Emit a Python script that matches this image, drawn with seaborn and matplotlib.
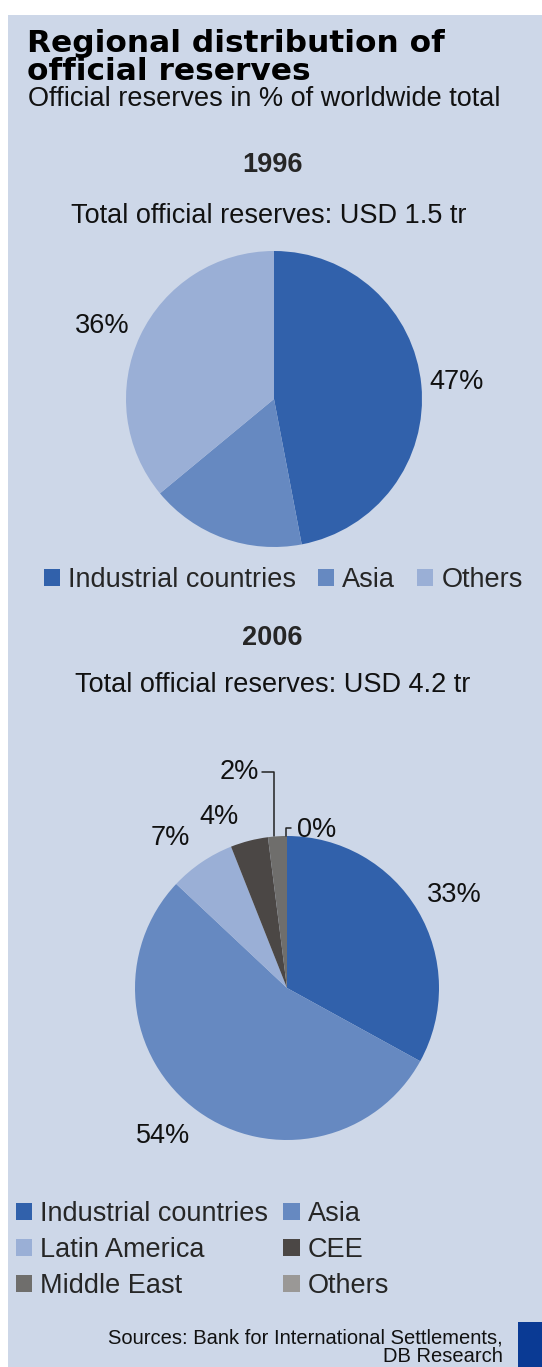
import matplotlib
matplotlib.use("Agg")
import numpy as np
import matplotlib.pyplot as plt
import seaborn as sns
from matplotlib.patches import Patch, Rectangle

# ============================
# data
# ============================
regions_1996 = ["Industrial countries", "Asia", "Others"]
shares_1996 = [47, 17, 36]
labels_1996 = ["47%", "", "36%"]

regions_2006 = ["Industrial countries", "Asia", "Latin America", "CEE", "Middle East", "Others"]
shares_2006 = [33, 54, 7, 4, 2, 0]
labels_2006 = ["33%", "54%", "7%", "4%", "", ""]

colors_1996 = ["#3161ab", "#6689c1", "#9aafd6"]
colors_2006 = ["#3161ab", "#6689c1", "#9aafd6", "#4b4745", "#6f6e6c", "#9a9896"]

# ============================
# style
# ============================
sns.set_style("white")
plt.rcParams["font.family"] = ["Liberation Sans", "DejaVu Sans"]

BG = "#cdd7e8"
W, H = 542, 1367
FS = 19.5

fig = plt.figure(figsize=(W / 100, H / 100), dpi=100)
fig.patch.set_facecolor("white")
fig.patches.append(Rectangle((8 / W, 0), 1, 1 - 15 / H, transform=fig.transFigure,
                             facecolor=BG, edgecolor="none", zorder=-10))


def fx(x):
    return x / W


def fy(y):
    return 1 - y / H


def pie_axes(cx, cy, r):
    ax = fig.add_axes([fx(cx - r), fy(cy + r), 2 * r / W, 2 * r / H])
    ax.set_facecolor("none")
    ax.axis("off")
    return ax


def draw_pie(ax, values, colors, labels, dist, tweak=None):
    # tweak: {index: (angle offset in degrees, radial distance)}
    wedges, _ = ax.pie(values, colors=colors, startangle=90, counterclock=False,
                       radius=1, wedgeprops=dict(linewidth=0))
    ax.set_xlim(-1, 1)
    ax.set_ylim(-1, 1)
    for i, (w, lab) in enumerate(zip(wedges, labels)):
        if not lab:
            continue
        ang = np.deg2rad((w.theta1 + w.theta2) / 2)
        d = dist
        if tweak and i in tweak:
            ang += np.deg2rad(tweak[i][0])
            d = tweak[i][1]
        ax.text(d * np.cos(ang), d * np.sin(ang), lab, ha="center", va="center",
                fontsize=FS, color="#111111")
    return wedges


# ============================
# titles
# ============================
title_font = ["DejaVu Sans"]
fig.text(fx(27), fy(52), "Regional distribution of", fontsize=22.5, fontweight="bold",
         family=title_font, va="baseline", color="black")
fig.text(fx(27), fy(80), "official reserves", fontsize=22.5, fontweight="bold",
         family=title_font, va="baseline", color="black")
fig.text(fx(28), fy(106), "Official reserves in % of worldwide total", fontsize=FS,
         va="baseline", color="#111111")

# ============================
# 1996
# ============================
fig.text(fx(272), fy(172), "1996", fontsize=FS, fontweight="bold", ha="center",
         va="baseline")
fig.text(fx(269), fy(223), "Total official reserves: USD 1.5 tr", fontsize=FS,
         ha="center", va="baseline", color="#111111")

ax1 = pie_axes(274, 399, 148)
draw_pie(ax1, shares_1996, colors_1996, labels_1996, 1.24, tweak={2: (2, 1.26)})

fig.legend(handles=[Patch(facecolor=c, edgecolor="none", label=r)
                    for c, r in zip(colors_1996, regions_1996)],
           loc="center left", bbox_to_anchor=(fx(44), fy(580)), ncol=3,
           frameon=False, fontsize=FS, handlelength=0.6, handleheight=0.6,
           handletextpad=0.3, columnspacing=0.8, borderaxespad=0, borderpad=0)

# ============================
# 2006
# ============================
fig.text(fx(272), fy(645), "2006", fontsize=FS, fontweight="bold", ha="center",
         va="baseline")
fig.text(fx(273), fy(692), "Total official reserves: USD 4.2 tr", fontsize=FS,
         ha="center", va="baseline", color="#111111")

ax2 = pie_axes(287, 988, 152)
wedges2 = draw_pie(ax2, shares_2006, colors_2006, labels_2006, 1.245,
                   tweak={0: (-1.5, 1.26), 1: (-4, 1.27), 2: (3.5, 1.25), 3: (7.3, 1.21)})

# leader lines for the two small slices
line_kw = dict(color="#222222", lw=1.1, clip_on=False)
me = wedges2[4]
me_ang = np.deg2rad((me.theta1 + me.theta2) / 2)
x_me = np.cos(me_ang) - 0.02
ax2.plot([x_me, x_me, x_me - 0.08], [np.sin(me_ang), 1.42, 1.42], **line_kw)
ax2.text(x_me - 0.1, 1.42, "2%", ha="right", va="center", fontsize=FS, color="#111111")

ot = wedges2[5]
ot_ang = np.deg2rad(ot.theta1)
x_ot = np.cos(ot_ang) - 0.007
ax2.plot([x_ot, x_ot, x_ot + 0.035], [1.0, 1.055, 1.055], **line_kw)
ax2.text(x_ot + 0.075, 1.04, "0%", ha="left", va="center", fontsize=FS, color="#111111")

order = [0, 2, 4, 1, 3, 5]
handles2 = [Patch(facecolor=colors_2006[i], edgecolor="none", label=regions_2006[i])
            for i in order]
fig.legend(handles=handles2, loc="upper left", bbox_to_anchor=(fx(16), fy(1201)), ncol=2,
           frameon=False, fontsize=FS, handlelength=0.6, handleheight=0.6,
           handletextpad=0.3, columnspacing=0.55, labelspacing=0.37,
           borderaxespad=0, borderpad=0)

# ============================
# source
# ============================
fig.text(fx(503), fy(1343), "Sources: Bank for International Settlements,", fontsize=14.5,
         ha="right", va="baseline", color="#111111")
fig.text(fx(503), fy(1362), "DB Research", fontsize=14.5, ha="right", va="baseline",
         color="#111111")
fig.patches.append(Rectangle((fx(518), 0), fx(24), 45 / H, transform=fig.transFigure,
                             facecolor="#0a3a94", edgecolor="none"))

fig.savefig("out.png", dpi=100, facecolor=fig.get_facecolor())
